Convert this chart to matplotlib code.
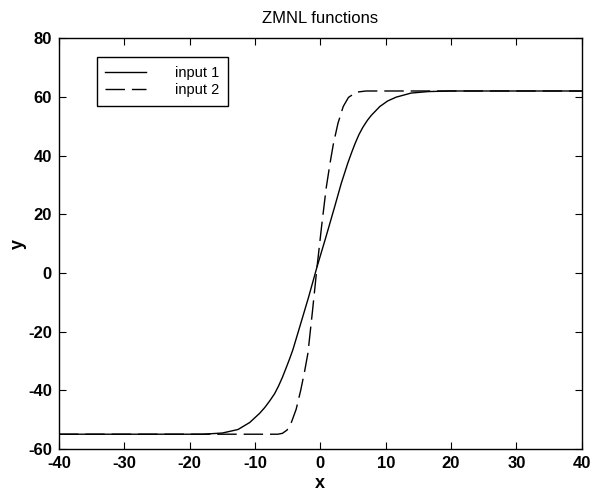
import matplotlib
matplotlib.use("Agg")
import matplotlib.pyplot as plt

plt.rcParams['font.family'] = ['Liberation Sans', 'DejaVu Sans']
plt.rcParams['axes.unicode_minus'] = False

# values
x1 = [-40, -30, -20, -18, -15, -12.6, -10.8, -9.3, -8.5, -7.7, -7.0, -6.4, -5.8,
      -5.2, -4.7, -4.2, -3.15, -1.8, -0.5, 0.8, 2.2, 3.2, 4.2, 4.8, 5.3, 5.9, 6.5,
      7.2, 7.8, 9.1, 10.3, 11.6, 13.9, 16.5, 20, 30, 40]
y1 = [-55, -55, -55, -55, -54.6, -53.4, -51, -47.9, -45.9, -43.5, -41.2, -38.6,
      -35.6, -32.2, -29.3, -26.2, -18.4, -8.3, 2.1, 11.8, 22.6, 30.5, 37.4, 41.1,
      44.0, 47.1, 49.6, 52.0, 53.7, 56.7, 58.6, 59.9, 61.3, 61.8, 62, 62, 62]

x2 = [-40, -30, -20, -10, -6.5, -5.8, -5.1, -4.4, -3.7, -3.0, -2.4, -1.9, -1.2,
      -0.5, 0.2, 0.9, 1.5, 2.0, 2.7, 3.5, 4.3, 5.5, 7, 10, 20, 30, 40]
y2 = [-55, -55, -55, -55, -55, -54.7, -53.6, -50.8, -46.5, -40, -33.5, -27.4, -13,
      2.1, 16, 29, 37.6, 44.0, 51, 56.7, 59.8, 61.6, 62, 62, 62, 62, 62]

xticks = [-40, -30, -20, -10, 0, 10, 20, 30, 40]
yticks = [-60, -40, -20, 0, 20, 40, 60, 80]

fig = plt.figure(figsize=(6.01, 4.96), dpi=100)
ax = fig.add_axes([0.098, 0.095, 0.870, 0.828])

ax.plot(x1, y1, color='black', lw=1.0, label='input 1')
ax.plot(x2, y2, color='black', lw=1.0, dashes=(14, 5), label='input 2')

ax.set_xlim(-40, 40)
ax.set_ylim(-60, 80)
ax.set_xticks(xticks)
ax.set_yticks(yticks)
ax.tick_params(direction='in', top=True, right=True, length=5, width=0.8,
               labelsize=12, pad=5)
for lab in ax.get_xticklabels() + ax.get_yticklabels():
    lab.set_fontweight('bold')
for sp in ax.spines.values():
    sp.set_linewidth(1.0)

ax.set_xlabel('x', fontsize=13, fontweight='bold', labelpad=3)
ax.set_ylabel('y', fontsize=13, fontweight='bold', labelpad=1)
ax.set_title('ZMNL functions', fontsize=12, pad=11)

leg = ax.legend(loc='upper left', bbox_to_anchor=(0.072, 0.954), borderaxespad=0,
                fontsize=10.5, handlelength=2.8, handletextpad=2.0, borderpad=0.6,
                labelspacing=0.25, frameon=True, fancybox=False, framealpha=1)
leg.get_frame().set_edgecolor('black')
leg.get_frame().set_linewidth(1.0)

fig.savefig('out.png', dpi=100)
